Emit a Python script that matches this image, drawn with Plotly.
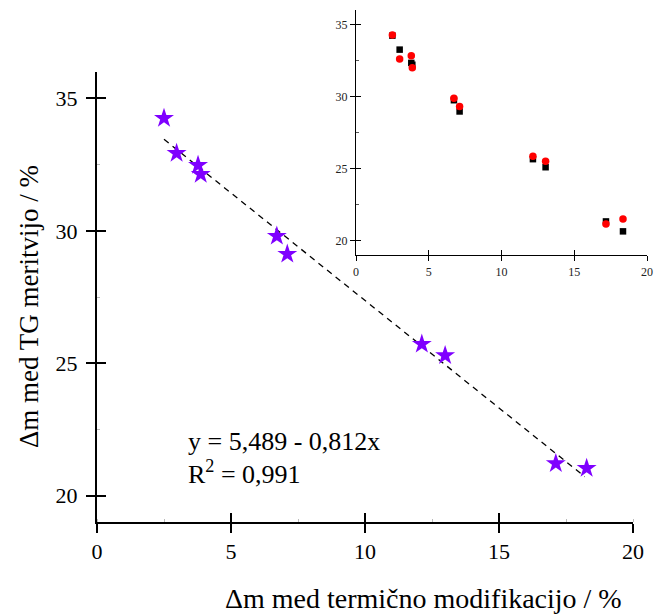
import plotly.graph_objects as go

# ---------------- data ----------------
main_x = [2.50, 2.97, 3.77, 3.87, 6.71, 7.10, 12.12, 12.99, 17.12, 18.27]
main_y = [34.25, 32.93, 32.48, 32.14, 29.80, 29.12, 25.72, 25.29, 21.21, 21.03]

inset_sq_x = [2.50, 3.00, 3.80, 3.87, 6.73, 7.12, 12.16, 13.03, 17.18, 18.35]
inset_sq_y = [34.22, 33.25, 32.33, 32.20, 29.74, 28.96, 25.65, 25.09, 21.33, 20.64]
inset_ci_x = [2.50, 3.00, 3.80, 3.87, 6.73, 7.12, 12.16, 13.03, 17.18, 18.35]
inset_ci_y = [34.26, 32.60, 32.83, 32.00, 29.88, 29.31, 25.85, 25.51, 21.15, 21.50]

fit_intercept = 35.489
fit_slope = -0.812
fit_x = [2.5, 18.2]
fit_y = [fit_intercept + fit_slope * v for v in fit_x]

x_ticks = [0, 5, 10, 15, 20]
y_ticks = [20, 25, 30, 35]

eq_line1 = "y = 5,489 - 0,812x"
eq_line2 = "R<sup>2</sup> = 0,991"
x_title = "Δm med termično modifikacijo / %"
y_title = "Δm med TG meritvijo / %"

FONT = "Liberation Serif, Times New Roman, serif"

fig = go.Figure()

# main
fig.add_trace(go.Scatter(x=fit_x, y=fit_y, mode="lines",
                         line=dict(color="black", width=1.3, dash="6px,5px"),
                         xaxis="x", yaxis="y", showlegend=False, hoverinfo="skip"))
fig.add_trace(go.Scatter(x=main_x, y=main_y, mode="markers",
                         marker=dict(symbol="star", size=15, color="#7F00FF",
                                     line=dict(width=0)),
                         xaxis="x", yaxis="y", showlegend=False))
# inset
fig.add_trace(go.Scatter(x=inset_sq_x, y=inset_sq_y, mode="markers",
                         marker=dict(symbol="square", size=6.5, color="black",
                                     line=dict(width=0)),
                         xaxis="x2", yaxis="y2", showlegend=False))
fig.add_trace(go.Scatter(x=inset_ci_x, y=inset_ci_y, mode="markers",
                         marker=dict(symbol="circle", size=7.5, color="#FF0000",
                                     line=dict(width=0)),
                         xaxis="x2", yaxis="y2", showlegend=False))
# dummy traces for overlay axes (inside half of crossing ticks)
fig.add_trace(go.Scatter(x=[None], y=[None], xaxis="x3", yaxis="y3", showlegend=False))
fig.add_trace(go.Scatter(x=[None], y=[None], xaxis="x4", yaxis="y4", showlegend=False))

W, H = 654, 614
L, R, T, B = 97, 5, 8, 92
pw = W - L - R
ph = H - T - B

def fx(px):
    return (px - L) / pw

def fy(py):
    return (H - B - py) / ph

main_xd = [fx(97), fx(633)]
main_yd = [fy(522), fy(72)]
ins_xd = [fx(356), fx(647)]
ins_yd = [fy(255), fy(10)]

tick_font = dict(family=FONT, size=22, color="black")
xtitle_font = dict(family=FONT, size=28, color="black")
ytitle_font = dict(family=FONT, size=27, color="black")
eq_font = dict(family=FONT, size=26, color="black")
ins_font = dict(family=FONT, size=12, color="#222")

common = dict(showgrid=False, zeroline=False, showline=True, linecolor="black",
              automargin=False)

fig.update_layout(
    width=W, height=H, autosize=False,
    margin=dict(l=L, r=R, t=T, b=B, pad=0, autoexpand=False),
    paper_bgcolor="white", plot_bgcolor="rgba(0,0,0,0)",
    xaxis=dict(**common, domain=main_xd, range=[0, 20], tickvals=x_ticks,
               ticks="outside", ticklen=9, tickwidth=2, tickcolor="black",
               linewidth=2, tickfont=tick_font, anchor="y",
               minor=dict(ticks="inside", ticklen=3, dtick=2.5, tickcolor="#bbb", tickwidth=1)),
    yaxis=dict(**common, domain=main_yd, range=[19.0, 36.0], tickvals=y_ticks,
               ticks="outside", ticklen=9, tickwidth=2, tickcolor="black",
               linewidth=2, tickfont=tick_font, anchor="x", ticklabelstandoff=4,
               minor=dict(ticks="inside", ticklen=3, dtick=2.5, tickcolor="#bbb", tickwidth=1)),
    xaxis3=dict(**common, domain=main_xd, range=[0, 20], tickvals=x_ticks,
                ticks="inside", ticklen=9, tickwidth=2, tickcolor="black",
                linewidth=2, showticklabels=False, overlaying="x", anchor="y3"),
    yaxis3=dict(**common, domain=main_yd, range=[19.0, 36.0], tickvals=y_ticks,
                ticks="inside", ticklen=9, tickwidth=2, tickcolor="black",
                linewidth=2, showticklabels=False, overlaying="y", anchor="x3"),
    xaxis2=dict(**common, domain=ins_xd, range=[0, 20], tickvals=x_ticks,
                ticks="outside", ticklen=5, tickwidth=1.3, tickcolor="black",
                linewidth=1.3, tickfont=ins_font, anchor="y2"),
    yaxis2=dict(**common, domain=ins_yd, range=[19.0, 36.0], tickvals=y_ticks,
                ticks="outside", ticklen=5, tickwidth=1.3, tickcolor="black",
                linewidth=1.3, tickfont=ins_font, anchor="x2",
                minor=dict(ticks="inside", ticklen=3, dtick=2.5, tickcolor="#555", tickwidth=1)),
    xaxis4=dict(**common, domain=ins_xd, range=[0, 20], tickvals=x_ticks,
                ticks="inside", ticklen=5, tickwidth=1.3, tickcolor="black",
                linewidth=1.3, showticklabels=False, overlaying="x2", anchor="y4"),
    yaxis4=dict(**common, domain=ins_yd, range=[19.0, 36.0], tickvals=y_ticks,
                ticks="inside", ticklen=5, tickwidth=1.3, tickcolor="black",
                linewidth=1.3, showticklabels=False, overlaying="y2", anchor="x4"),
    annotations=[
        dict(text=eq_line1, xref="paper", yref="paper", x=fx(186), y=fy(441),
             xanchor="left", yanchor="middle", align="left", showarrow=False,
             font=eq_font),
        dict(text=eq_line2, xref="paper", yref="paper", x=fx(186), y=fy(472),
             xanchor="left", yanchor="middle", align="left", showarrow=False,
             font=eq_font),
        dict(text=x_title, xref="paper", yref="paper", x=fx(423), y=fy(598),
             xanchor="center", yanchor="middle", showarrow=False, font=xtitle_font),
        dict(text=y_title, xref="paper", yref="paper", x=fx(29), y=fy(307),
             xanchor="center", yanchor="middle", showarrow=False, font=ytitle_font,
             textangle=-90),
    ],
)

post = (
    "document.body.style.margin='0';"
    "document.body.style.padding='0';"
    "document.body.style.overflow='hidden';"
    "var gd=document.getElementById('{plot_id}');"
    "Plotly.relayout(gd,{width:%d,height:%d});" % (W, H)
)

fig.write_html("out.html", config={"responsive": False, "displayModeBar": False},
               post_script=post)
